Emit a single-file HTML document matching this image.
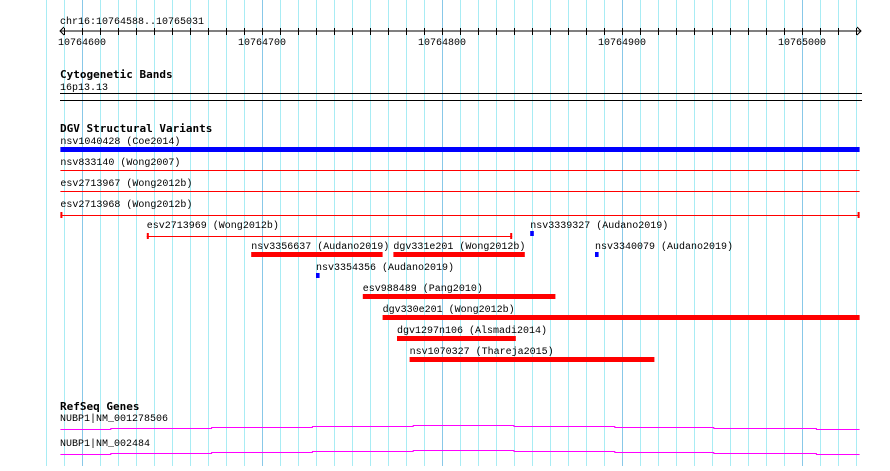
<!DOCTYPE html>
<html><head><meta charset="utf-8"><style>
body{margin:0;background:#fff;}
svg text{font-family:"Liberation Mono",monospace;font-size:10px;fill:#000;}
svg text.t{font-family:"DejaVu Sans Mono","Liberation Mono",monospace;font-weight:bold;font-size:11px;}
</style></head><body>
<svg id="c" width="890" height="466" viewBox="0 0 890 466" xmlns="http://www.w3.org/2000/svg">
<g id="grid"></g>
<g id="axis">
<text x="60" y="24">chr16:10764588..10765031</text>
<line x1="60" y1="31" x2="861" y2="31" stroke="#000"/>
<polyline points="64,27 60,31 64,35" fill="none" stroke="#000"/>
<polyline points="857,27 861,31 857,35" fill="none" stroke="#000"/>
</g>
<text class="t" x="60" y="78">Cytogenetic Bands</text>
<text x="60" y="90">16p13.13</text>
<line x1="60" y1="93.5" x2="862" y2="93.5" stroke="#000"/>
<line x1="60" y1="100.5" x2="862" y2="100.5" stroke="#000"/>
<text class="t" x="60" y="132">DGV Structural Variants</text>
<g id="sv"></g>
<text class="t" x="60" y="410">RefSeq Genes</text>
<g id="genes"></g>
</svg>
<script>
const ticks=[10764600,10764700,10764800,10764900,10765000];
const svNames=["nsv1040428 (Coe2014)","nsv833140 (Wong2007)","esv2713967 (Wong2012b)","esv2713968 (Wong2012b)","esv2713969 (Wong2012b)","nsv3339327 (Audano2019)","nsv3356637 (Audano2019)","dgv331e201 (Wong2012b)","nsv3340079 (Audano2019)","nsv3354356 (Audano2019)","esv988489 (Pang2010)","dgv330e201 (Wong2012b)","dgv1297n106 (Alsmadi2014)","nsv1070327 (Thareja2015)"];
const svStart=[10764588,10764588,10764588,10764588,10764636,10764849,10764694,10764773,10764885,10764730,10764756,10764767,10764775,10764782];
const svEnd=[10765032,10765032,10765032,10765032,10764839,10764851,10764767,10764846,10764887,10764732,10764863,10765032,10764841,10764918];
const svType=["bar","line","line","capline","capline","bar","bar","bar","bar","bar","bar","bar","bar","bar"];
const svColor=["#0000ff","#ff0000","#ff0000","#ff0000","#ff0000","#0000ff","#ff0000","#ff0000","#0000ff","#0000ff","#ff0000","#ff0000","#ff0000","#ff0000"];
const svRow=[0,1,2,3,4,4,5,5,5,6,7,8,9,10];
const geneNames=["NUBP1|NM_001278506","NUBP1|NM_002484"];
const stepBreaks=[10764588,10764616,10764672,10764728,10764784,10764840,10764896,10764951,10765008,10765032];
const stepLevels=[0,1,2,3,4,3,2,1,0];
const NS="http://www.w3.org/2000/svg";
const X=g=>82+(g-10764600)*1.8;
function mk(t,a,p){const e=document.createElementNS(NS,t);for(const k in a)e.setAttribute(k,a[k]);p.appendChild(e);return e;}
const grid=document.getElementById('grid');
for(let g=10764580;g<=10765030;g+=10){
 const l=mk('line',{x1:X(g)+.5,x2:X(g)+.5,y1:0,y2:466,stroke:(g%100===0)?'#88c8e8':'#a8ecf4'},grid);
 
 
}
const axis=document.getElementById('axis');
for(let g=10764590;g<=10765030;g+=10){
 const tk=mk('line',{x1:X(g)+.5,x2:X(g)+.5,y1:28,y2:35,stroke:'#000'},axis);
 
 
}
ticks.forEach(t=>{
 const tx=mk('text',{x:X(t),y:45,'text-anchor':'middle'},axis);tx.textContent=t;
 
 
});
const sv=document.getElementById('sv');
svNames.forEach((n,i)=>{
 const y=147+svRow[i]*21;const x1=X(svStart[i]),x2=X(svEnd[i]);
 const g=mk('g',{},sv);
 
 
 const c=svColor[i];
 if(svType[i]==='bar'){mk('rect',{x:x1,y:y,width:Math.max(3,x2-x1),height:5,fill:c},g);}
 else{
  const ly=y+(svType[i]==='line'?2:5);
  mk('line',{x1:x1,x2:x2,y1:ly+.5,y2:ly+.5,stroke:c},g);
  if(svType[i]==='capline'){mk('rect',{x:x1,y:ly-3,width:2,height:6,fill:c},g);mk('rect',{x:x2-2,y:ly-3,width:2,height:6,fill:c},g);}
 }
 const tx=mk('text',{x:x1,y:y-3},g);tx.textContent=n;
 
 
});
const genes=document.getElementById('genes');
geneNames.forEach((n,i)=>{
 const base=429+i*25;
 const g=mk('g',{},genes);
 
 
 const tx=mk('text',{x:60,y:base-8},g);tx.textContent=n;
 let pts=[];
 for(let k=0;k<stepLevels.length;k++){const yy=base-stepLevels[k]+.5;pts.push(X(stepBreaks[k])+','+yy,X(stepBreaks[k+1])+','+yy);}
 mk('polyline',{points:pts.join(' '),fill:'none',stroke:'#ff00ff'},g);
});
</script>
</body></html>
